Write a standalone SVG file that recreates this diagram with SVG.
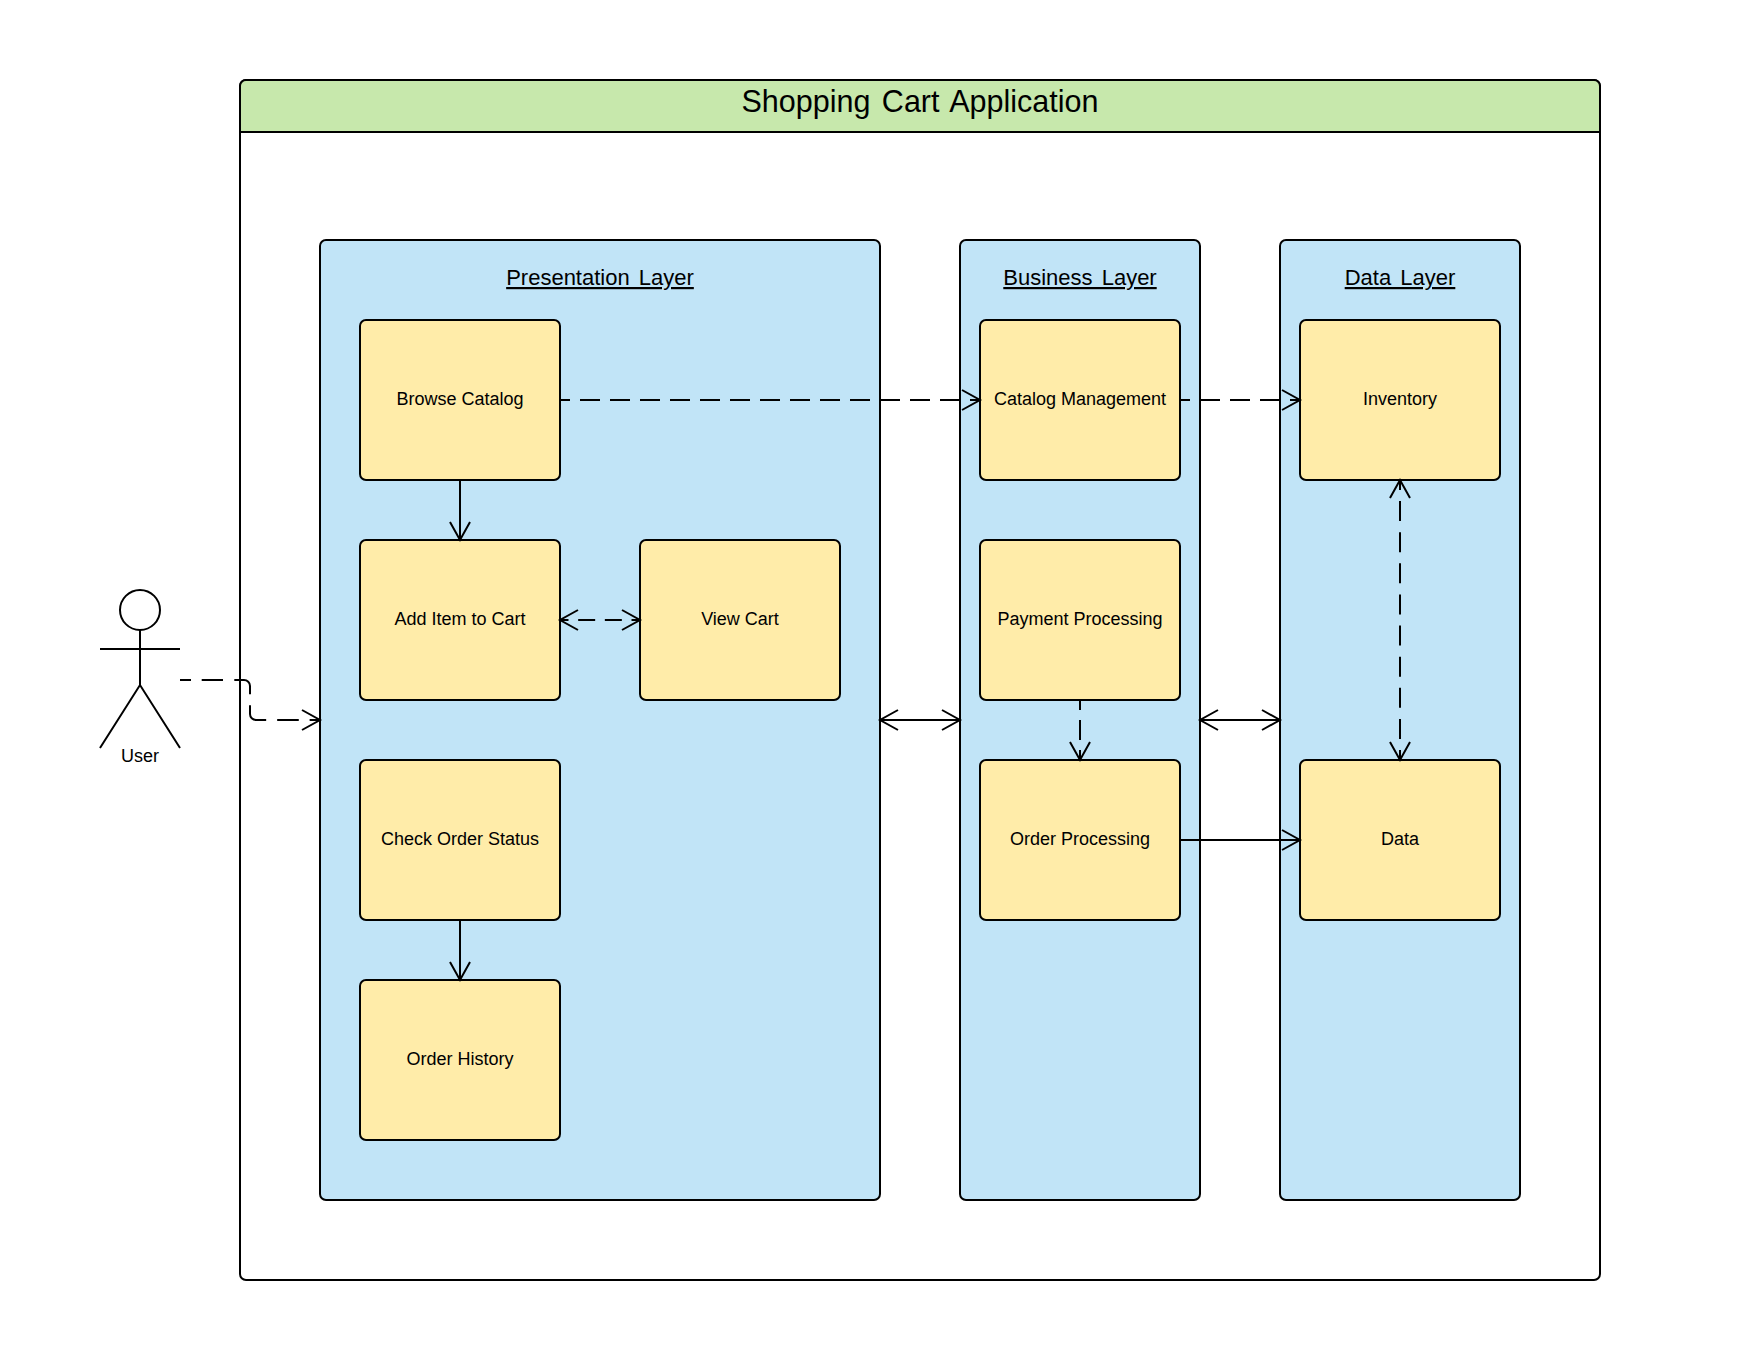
<svg xmlns="http://www.w3.org/2000/svg" width="1760" height="1360" viewBox="0 0 1760 1360">
<style>
text{font-family:"Liberation Sans",Arial,sans-serif;fill:#000;text-anchor:middle}
.s{stroke:#000;stroke-width:2;fill:none}
.layer{fill:#c1e4f7;stroke:#000;stroke-width:2}
.box{fill:#ffeca9;stroke:#000;stroke-width:2}
.t{font-size:18px}
.h{font-size:22px;text-decoration:underline;word-spacing:3px}
.d{stroke-dasharray:20 10;stroke-dashoffset:10}
</style>
<defs>
<marker id="a" markerUnits="userSpaceOnUse" markerWidth="24" markerHeight="28" refX="20" refY="12" orient="auto-start-reverse" overflow="visible"><path d="M2 2L20 12L2 22" fill="none" stroke="#000" stroke-width="2"/></marker>
</defs>
<rect width="1760" height="1360" fill="#fff"/>
<g id="container">
<rect x="240" y="80" width="1360" height="1200" rx="6" fill="#fff" stroke="#000" stroke-width="2"/>
<path d="M240 132V86a6 6 0 0 1 6-6H1594a6 6 0 0 1 6 6V132Z" fill="#c7e8ac" stroke="#000" stroke-width="2"/>
<text x="920" y="112" font-size="30.500" word-spacing="3">Shopping Cart Application</text>
</g>
<g id="presentation-layer"><rect class="layer" x="320" y="240" width="560" height="960" rx="6"/><text class="h" x="600" y="285">Presentation Layer</text></g>
<g id="business-layer"><rect class="layer" x="960" y="240" width="240" height="960" rx="6"/><text class="h" x="1080" y="285">Business Layer</text></g>
<g id="data-layer"><rect class="layer" x="1280" y="240" width="240" height="960" rx="6"/><text class="h" x="1400" y="285">Data Layer</text></g>
<g id="browse-catalog"><rect class="box" x="360" y="320" width="200" height="160" rx="6"/><text class="t" x="460" y="405">Browse Catalog</text></g>
<g id="add-item"><rect class="box" x="360" y="540" width="200" height="160" rx="6"/><text class="t" x="460" y="625">Add Item to Cart</text></g>
<g id="view-cart"><rect class="box" x="640" y="540" width="200" height="160" rx="6"/><text class="t" x="740" y="625">View Cart</text></g>
<g id="check-order"><rect class="box" x="360" y="760" width="200" height="160" rx="6"/><text class="t" x="460" y="845">Check Order Status</text></g>
<g id="order-history"><rect class="box" x="360" y="980" width="200" height="160" rx="6"/><text class="t" x="460" y="1065">Order History</text></g>
<g id="catalog-management"><rect class="box" x="980" y="320" width="200" height="160" rx="6"/><text class="t" x="1080" y="405">Catalog Management</text></g>
<g id="payment-processing"><rect class="box" x="980" y="540" width="200" height="160" rx="6"/><text class="t" x="1080" y="625">Payment Processing</text></g>
<g id="order-processing"><rect class="box" x="980" y="760" width="200" height="160" rx="6"/><text class="t" x="1080" y="845">Order Processing</text></g>
<g id="inventory"><rect class="box" x="1300" y="320" width="200" height="160" rx="6"/><text class="t" x="1400" y="405">Inventory</text></g>
<g id="data"><rect class="box" x="1300" y="760" width="200" height="160" rx="6"/><text class="t" x="1400" y="845">Data</text></g>
<g id="user">
<circle class="s" cx="140" cy="610" r="20"/>
<path class="s" d="M140 630V685M100 649H180M100 748L140 685L180 748"/>
<text class="t" x="140" y="762">User</text>
</g>
<g id="connectors" class="s">
<path style="stroke-dasharray:11 10.700 21.300 11.300 27.120 11 28.120 11 21.600 10.860 11 1000" marker-end="url(#a)" d="M180 680H244a6 6 0 0 1 6 6V714a6 6 0 0 0 6 6H320"/>
<path class="d" marker-end="url(#a)" d="M560 400H980"/>
<path class="d" marker-end="url(#a)" d="M1180 400H1300"/>
<path marker-end="url(#a)" d="M460 480V540"/>
<path marker-end="url(#a)" d="M460 920V980"/>
<path style="stroke-dasharray:17 9.670;stroke-dashoffset:8.500" marker-start="url(#a)" marker-end="url(#a)" d="M560 620H640"/>
<path marker-start="url(#a)" marker-end="url(#a)" d="M880 720H960"/>
<path marker-start="url(#a)" marker-end="url(#a)" d="M1200 720H1280"/>
<path class="d" marker-end="url(#a)" d="M1080 700V760"/>
<path marker-end="url(#a)" d="M1180 840H1300"/>
<path style="stroke-dasharray:20 11.110;stroke-dashoffset:10" marker-start="url(#a)" marker-end="url(#a)" d="M1400 480V760"/>
</g>
</svg>
